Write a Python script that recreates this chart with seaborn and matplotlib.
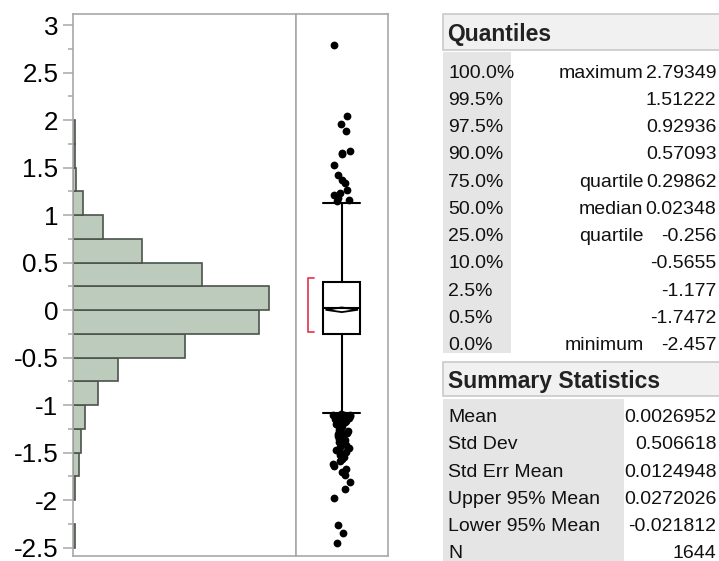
import numpy as np
import pandas as pd
import matplotlib
matplotlib.use("Agg")
import matplotlib.pyplot as plt
from matplotlib.patches import Rectangle
from matplotlib.ticker import FixedLocator
import seaborn as sns

# ---------------- data ----------------
bin_edges = [-2.5, -2.25, -2.0, -1.75, -1.5, -1.25, -1.0, -0.75, -0.5, -0.25, 0.0,
             0.25, 0.5, 0.75, 1.0, 1.25, 1.5, 1.75, 2.0, 2.25, 2.5, 2.75, 3.0]
bin_counts = [3, 0, 4, 11, 15, 23, 50, 89, 223, 372, 392, 258, 137, 59, 19,
              5, 4, 4, 0, 0, 0, 0]

box_q1 = -0.256
box_median = 0.02348
box_q3 = 0.29862
whisker_low = -1.083
whisker_high = 1.127
mean_value = 0.0026952
mean_ci = [-0.021812, 0.0272026]
shortest_half = [-0.228, 0.334]

outliers = [2.79349, 2.045, 1.958, 1.884, 1.677, 1.649, 1.645, 1.526, 1.421,
            1.368, 1.333, 1.263, 1.235, 1.21, 1.176, 1.158, 1.145,
            -1.09, -1.10, -1.10, -1.11, -1.12, -1.12, -1.13, -1.14, -1.15,
            -1.16, -1.17, -1.18, -1.19, -1.20, -1.22, -1.23, -1.24,
            -1.26, -1.27, -1.29, -1.30, -1.31, -1.33, -1.34, -1.36, -1.37,
            -1.39, -1.41, -1.42, -1.44, -1.45, -1.47, -1.49,
            -1.51, -1.53, -1.55, -1.57, -1.59, -1.62, -1.64, -1.67, -1.70,
            -1.74, -1.81, -1.88, -1.98, -2.263, -2.35, -2.457]

ytick_values = [-2.5, -2.0, -1.5, -1.0, -0.5, 0.0, 0.5, 1.0, 1.5, 2.0, 2.5, 3.0]
ytick_labels = ["-2.5", "-2", "-1.5", "-1", "-0.5", "0", "0.5", "1", "1.5", "2", "2.5", "3"]

quant_levels = ["100.0%", "99.5%", "97.5%", "90.0%", "75.0%", "50.0%", "25.0%",
                "10.0%", "2.5%", "0.5%", "0.0%"]
quant_names = ["maximum", "", "", "", "quartile", "median", "quartile", "", "", "", "minimum"]
quant_values = ["2.79349", "1.51222", "0.92936", "0.57093", "0.29862", "0.02348",
                "-0.256", "-0.5655", "-1.177", "-1.7472", "-2.457"]

summary_labels = ["Mean", "Std Dev", "Std Err Mean", "Upper 95% Mean", "Lower 95% Mean", "N"]
summary_values = ["0.0026952", "0.506618", "0.0124948", "0.0272026", "-0.021812", "1644"]

# ---------------- style ----------------
sns.set_style("white")
plt.rcParams['font.family'] = ['Liberation Sans', 'DejaVu Sans']

W, H = 719, 561
fig = plt.figure(figsize=(W / 100, H / 100), dpi=100)
fig.patch.set_facecolor("white")

def frac_rect(x0, y0, x1, y1):
    return [x0 / W, 1 - y1 / H, (x1 - x0) / W, (y1 - y0) / H]

ax_h = fig.add_axes(frac_rect(73.3, 14, 296, 556))
ax_b = fig.add_axes(frac_rect(296, 14, 387.5, 556), sharey=ax_h)

# ---------------- histogram ----------------
centers = [(a + b) / 2 for a, b in zip(bin_edges[:-1], bin_edges[1:])]
hist_df = pd.DataFrame({"value": centers, "count": bin_counts})
sns.histplot(data=hist_df, y="value", weights="count", bins=bin_edges, ax=ax_h,
             color="#BDCBBC", edgecolor="#4b534b", linewidth=1.2, alpha=1.0)
for p in ax_h.patches:
    if p.get_width() <= 0:
        p.set_visible(False)
ax_h.set_xlim(0, 446)
ax_h.set_xlabel("")
ax_h.set_ylabel("")
ax_h.set_xticks([])

# ---------------- box plot ----------------
stats = [{"med": box_median, "q1": box_q1, "q3": box_q3,
          "whislo": whisker_low, "whishi": whisker_high, "fliers": []}]
ax_b.bxp(stats, positions=[0], widths=0.4, capwidths=0.4, showfliers=False,
         patch_artist=True,
         boxprops=dict(facecolor="white", edgecolor="black", linewidth=1.5),
         whiskerprops=dict(color="black", linewidth=1.5),
         capprops=dict(color="black", linewidth=1.5),
         medianprops=dict(color="black", linewidth=1.5))
ax_b.fill([-0.177, 0, 0.177, 0], [mean_value, mean_ci[1], mean_value, mean_ci[0]],
          facecolor="none", edgecolor="black", linewidth=1.3, zorder=5)
ax_b.plot([-0.302, -0.365, -0.365, -0.302],
          [shortest_half[1], shortest_half[1], shortest_half[0], shortest_half[0]],
          color="#e8405a", linewidth=1.3, zorder=5)

np.random.seed(7)
sns.stripplot(y=outliers, ax=ax_b, color="black", size=5.6, jitter=0.1,
              linewidth=0, zorder=6)
ax_b.set_xlim(-0.5, 0.5)
ax_b.set_xticks([])
ax_b.set_xlabel("")
ax_b.set_ylabel("")
ax_b.tick_params(axis="y", left=False, labelleft=False, which="both")

# ---------------- axes styling ----------------
ax_h.set_ylim(-2.589, 3.116)
ax_h.yaxis.set_major_locator(FixedLocator(ytick_values))
ax_h.set_yticklabels(ytick_labels)
ax_h.yaxis.set_minor_locator(FixedLocator([v + 0.25 for v in ytick_values[:-1]]))
ax_h.tick_params(axis="y", which="major", left=True, length=7.2, width=1.1,
                 color="#a8a8a8", pad=3.6, labelsize=18.7, labelcolor="black")
ax_h.tick_params(axis="y", which="minor", left=True, length=3.6, width=1.1,
                 color="#a8a8a8")
for ax in (ax_h, ax_b):
    ax.set_facecolor("white")
    for sp in ax.spines.values():
        sp.set_visible(True)
        sp.set_color("#a8a8a8")
        sp.set_linewidth(1.2)

# ---------------- tables ----------------
ax_t = fig.add_axes([0, 0, 1, 1])
ax_t.set_xlim(0, W)
ax_t.set_ylim(H, 0)
ax_t.axis("off")

hdr_fc, hdr_ec, lab_fc = "#f1f1f1", "#c9c9c9", "#e5e5e5"
txt_col = "#111111"

# Quantiles
ax_t.add_patch(Rectangle((443, 13.5), 290, 36, facecolor=hdr_fc, edgecolor=hdr_ec, linewidth=1.2))
ax_t.text(447.5, 32.8 + 8.2, "Quantiles", fontsize=16.5, fontweight="bold",
          va="baseline", ha="left", color="#222222")
ax_t.add_patch(Rectangle((443, 51.7), 68, 301.6, facecolor=lab_fc, edgecolor="none"))
for i, (lev, nm, val) in enumerate(zip(quant_levels, quant_names, quant_values)):
    yc = 70.5 + 27.28 * i
    ax_t.text(448, yc + 7, lev, fontsize=14, va="baseline", ha="left", color=txt_col)
    if nm:
        ax_t.text(643.5, yc + 7, nm, fontsize=14, va="baseline", ha="right", color=txt_col)
    ax_t.text(716.5, yc + 7, val, fontsize=14, va="baseline", ha="right", color=txt_col)

# Summary Statistics
ax_t.add_patch(Rectangle((443, 361.7), 290, 34.5, facecolor=hdr_fc, edgecolor=hdr_ec, linewidth=1.2))
ax_t.text(447.5, 380 + 8.2, "Summary Statistics", fontsize=16.5, fontweight="bold",
          va="baseline", ha="left", color="#222222")
ax_t.add_patch(Rectangle((443, 399.3), 181.3, 165, facecolor=lab_fc, edgecolor="none"))
for i, (lab, val) in enumerate(zip(summary_labels, summary_values)):
    yc = 415.3 + 27.1 * i
    ax_t.text(448, yc + 7, lab, fontsize=14, va="baseline", ha="left", color=txt_col)
    ax_t.text(716.5, yc + 7, val, fontsize=14, va="baseline", ha="right", color=txt_col)

fig.savefig("out.png", dpi=100, facecolor="white")
